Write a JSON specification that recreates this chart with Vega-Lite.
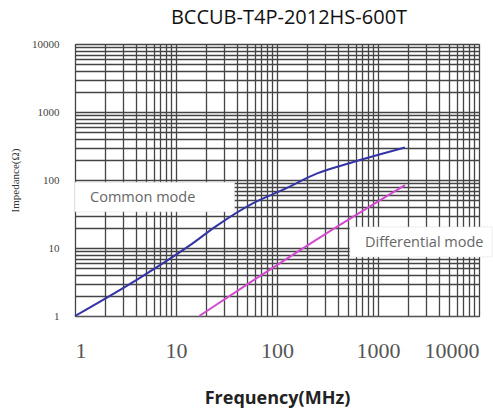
{
  "$schema": "https://vega.github.io/schema/vega-lite/v6.json",
  "width": 404,
  "height": 272,
  "autosize": "none",
  "padding": {"left": 75, "top": 44, "right": 14, "bottom": 96},
  "background": "white",
  "title": {
    "text": "BCCUB-T4P-2012HS-600T",
    "font": "Open Sans",
    "fontSize": 20,
    "fontWeight": "normal",
    "color": "#111111",
    "anchor": "middle",
    "frame": "group",
    "dx": 12,
    "offset": 10
  },
  "config": {
    "view": {"stroke": "#555555", "strokeWidth": 1}
  },
  "datasets": {
    "curves": [
      {"freq": 1, "imp": 1, "mode": "Common mode"},
      {"freq": 4.6, "imp": 3.8, "mode": "Common mode"},
      {"freq": 13.8, "imp": 11, "mode": "Common mode"},
      {"freq": 25, "imp": 21, "mode": "Common mode"},
      {"freq": 57, "imp": 45, "mode": "Common mode"},
      {"freq": 115, "imp": 72, "mode": "Common mode"},
      {"freq": 250, "imp": 125, "mode": "Common mode"},
      {"freq": 530, "imp": 178, "mode": "Common mode"},
      {"freq": 1120, "imp": 245, "mode": "Common mode"},
      {"freq": 1850, "imp": 300, "mode": "Common mode"},
      {"freq": 17, "imp": 1, "mode": "Differential mode"},
      {"freq": 63, "imp": 3.6, "mode": "Differential mode"},
      {"freq": 290, "imp": 15.5, "mode": "Differential mode"},
      {"freq": 1850, "imp": 84, "mode": "Differential mode"}
    ],
    "boxes": [
      {"freq": 1, "freq2": 38, "imp": 34, "imp2": 93},
      {"freq": 527, "freq2": 13500, "imp": 7.4, "imp2": 20.4}
    ],
    "labels": [
      {"freq": 1.41, "imp": 54, "label": "Common mode"},
      {"freq": 743, "imp": 11.9, "label": "Differential mode"}
    ]
  },
  "encoding": {
    "x": {
      "field": "freq",
      "type": "quantitative",
      "scale": {"type": "log", "domain": [1, 10000], "nice": false},
      "axis": {
        "title": "Frequency(MHz)",
        "titleFont": "Open Sans",
        "titleFontSize": 18,
        "titleFontWeight": "bold",
        "titleColor": "#222222",
        "titleBaseline": "alphabetic",
        "titleY": 87,
        "labelFont": "Liberation Serif",
        "labelFontSize": 22,
        "labelColor": "#555555",
        "labelPadding": 24,
        "labelFlush": true,
        "labelOverlap": false,
        "labelExpr": "abs(log(datum.value)/LN10 - round(log(datum.value)/LN10)) < 0.001 ? format(datum.value, 'd') : ''",
        "tickCount": 40,
        "ticks": false,
        "domain": true,
        "domainColor": "#555555",
        "grid": true,
        "gridColor": "#444444",
        "gridWidth": 1.3
      }
    },
    "y": {
      "field": "imp",
      "type": "quantitative",
      "scale": {"type": "log", "domain": [1, 10000], "nice": false},
      "axis": {
        "title": "Impedance(Ω)",
        "titleFont": "Liberation Serif",
        "titleFontSize": 11,
        "titleFontWeight": "normal",
        "titleColor": "#333333",
        "titleAngle": 270,
        "titleX": -60,
        "titleY": 136,
        "titleAlign": "center",
        "titleBaseline": "middle",
        "labelFont": "Liberation Serif",
        "labelFontSize": 11,
        "labelColor": "#444444",
        "labelPadding": 16,
        "labelFlush": false,
        "labelOverlap": false,
        "labelExpr": "abs(log(datum.value)/LN10 - round(log(datum.value)/LN10)) < 0.001 ? format(datum.value, 'd') : ''",
        "tickCount": 40,
        "ticks": false,
        "domain": false,
        "grid": true,
        "gridColor": "#444444",
        "gridWidth": 1.3
      }
    }
  },
  "layer": [
    {
      "data": {"name": "boxes"},
      "mark": {"type": "rect", "fill": "white", "stroke": "#dddddd", "strokeWidth": 0.5, "clip": false},
      "encoding": {
        "x2": {"field": "freq2"},
        "y2": {"field": "imp2"}
      }
    },
    {
      "data": {"name": "curves"},
      "mark": {"type": "line", "strokeWidth": 2, "interpolate": "monotone"},
      "encoding": {
        "color": {
          "field": "mode",
          "type": "nominal",
          "scale": {"domain": ["Common mode", "Differential mode"], "range": ["#3434a6", "#d24acf"]},
          "legend": null
        }
      }
    },
    {
      "data": {"name": "labels"},
      "mark": {"type": "text", "align": "left", "baseline": "middle", "font": "Open Sans", "fontSize": 14.5, "color": "#666666", "clip": false},
      "encoding": {
        "text": {"field": "label"}
      }
    }
  ]
}
